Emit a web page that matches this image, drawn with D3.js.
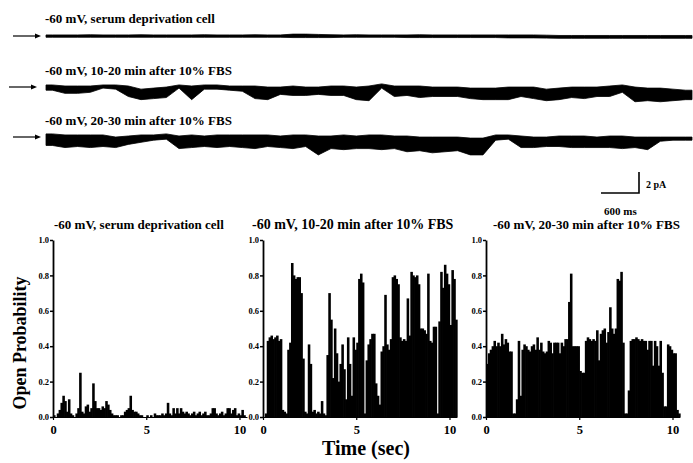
<!DOCTYPE html>
<html>
<head>
<meta charset="utf-8">
<script src="https://cdn.jsdelivr.net/npm/d3@7"></script>
<style>
    html, body { margin: 0; padding: 0; background: #fff; }
    svg { display: block; }
    text { font-family: "Liberation Serif", "Times New Roman", serif; font-weight: bold; fill: #000; }
</style>
</head>
<body>
<div id="figure"></div>
<script>
// ---- single channel traces, 0.2 s bins, envelope of the current (pA, closed = 0, openings negative)
const traceTitles = ["-60 mV, serum deprivation cell", "-60 mV, 10-20 min after 10% FBS", "-60 mV, 20-30 min after 10% FBS"];
const traceBin = 0.2;

const trace1Top = [0.10,0.10,0.10,0.12,0.10,0.10,0.10,0.12,0.10,0.10,0.10,0.10,0.12,0.10,0.10,0.10,0.12,0.10,0.10,0.18,0.18,0.15,0.12,0.10,0.12,0.10,0.10,0.10,0.10,0.12,0.10,0.10,0.10,0.10,0.10,0.10,0.10,0.10,0.10,0.08,0.05,0.05,0.05,0.05,0.05,0.05,0.05,0.05,0.05,0.05,0.05];
const trace1Bot = [-0.12,-0.12,-0.12,-0.12,-0.12,-0.12,-0.12,-0.12,-0.12,-0.12,-0.12,-0.12,-0.12,-0.12,-0.12,-0.12,-0.12,-0.12,-0.12,-0.15,-0.15,-0.15,-0.15,-0.12,-0.12,-0.12,-0.12,-0.12,-0.15,-0.15,-0.15,-0.15,-0.15,-0.15,-0.15,-0.15,-0.18,-0.18,-0.18,-0.20,-0.22,-0.22,-0.22,-0.22,-0.22,-0.22,-0.22,-0.22,-0.22,-0.22,-0.22];

const trace2Top = [0.1,0,0,0,0.1,0.1,0,-0.3,-0.2,-0.1,0.1,0,0.1,0.1,0,0,0,-0.1,-0.1,0,-0.1,-0.1,0,0,-0.1,0,0.2,0,0,0,-0.1,-0.1,-0.1,-0.2,-0.2,-0.2,-0.1,-0.1,-0.1,-0.3,-0.2,-0.1,-0.1,-0.1,0,0.1,-0.1,-0.2,-0.2,-0.3,-0.4];
const trace2Bot = [-0.4,-0.7,-0.7,-0.6,-0.2,-0.3,-1.0,-1.3,-1.2,-1.1,-0.2,-1.3,-0.3,-0.3,-0.4,-0.5,-1.2,-1.3,-0.8,-0.9,-0.9,-0.8,-0.9,-0.9,-1.3,-1.4,-0.2,-1.0,-0.9,-1.1,-1.0,-1.0,-1.0,-1.2,-1.3,-1.3,-1.3,-1.0,-1.2,-1.4,-1.3,-1.1,-1.2,-1.0,-1.0,-0.6,-1.5,-1.4,-1.5,-1.4,-1.3];

const trace3Top = [0.2,0.1,0.1,0.1,0.1,-0.1,0,0.1,0.1,0.2,0,0.1,0,0.1,0.1,0.1,0.1,0.1,0,0.1,0.1,0,0,0.1,0,0.1,0.1,0,0,-0.1,-0.1,-0.1,-0.1,-0.2,-0.2,0.1,0.1,0,-0.1,-0.1,0,0,0,-0.1,0,0,-0.1,-0.1,-0.1,-0.1,-0.1];
const trace3Bot = [-0.9,-1.1,-1.0,-1.1,-1.0,-1.1,-0.8,-0.6,-0.4,-0.3,-1.2,-1.1,-1.0,-1.1,-1.0,-1.1,-1.2,-1.0,-1.1,-1.2,-1.0,-1.8,-1.2,-1.3,-1.2,-1.2,-1.3,-1.2,-1.5,-1.4,-1.6,-1.5,-1.4,-1.8,-1.8,-0.4,-0.3,-1.1,-1.1,-1.0,-1.0,-1.1,-1.1,-1.1,-1.1,-1.2,-1.1,-1.3,-0.5,-0.4,-0.4];

const scaleBarCurrent = 2;    // pA
const scaleBarTime = 0.6;     // s
const scaleBarLabels = ["2 pA", "600 ms"];

// ---- open probability, 0.1 s bins
const poTitles = ["-60 mV, serum deprivation cell", "-60 mV, 10-20 min after 10% FBS", "-60 mV, 20-30 min after 10% FBS"];
const poBin = 0.1;

const poSerumFree = [0.01,0.00,0.02,0.04,0.08,0.12,0.09,0.03,0.10,0.02,
    0.01,0.00,0.02,0.05,0.25,0.03,0.02,0.06,0.07,0.03,
    0.05,0.19,0.09,0.05,0.05,0.04,0.06,0.05,0.09,0.07,
    0.04,0.02,0.01,0.01,0.01,0.00,0.01,0.01,0.03,0.04,
    0.05,0.12,0.04,0.03,0.03,0.02,0.01,0.01,0.00,0.00,
    0.01,0.00,0.01,0.00,0.02,0.01,0.01,0.01,0.02,0.01,
    0.02,0.08,0.02,0.01,0.05,0.02,0.05,0.02,0.05,0.03,
    0.02,0.03,0.02,0.01,0.02,0.03,0.01,0.02,0.03,0.01,
    0.02,0.03,0.01,0.01,0.02,0.05,0.05,0.02,0.01,0.02,
    0.03,0.01,0.02,0.05,0.05,0.02,0.04,0.05,0.01,0.02,
    0.01,0.04,0.01];

const poFbs10 = [0.00,0.02,0.43,0.45,0.46,0.44,0.45,0.46,0.43,0.44,
    0.04,0.03,0.02,0.38,0.42,0.87,0.80,0.78,0.79,0.79,
    0.70,0.33,0.03,0.02,0.41,0.30,0.03,0.04,0.02,0.03,
    0.02,0.09,0.02,0.01,0.35,0.70,0.55,0.22,0.50,0.36,
    0.20,0.30,0.41,0.27,0.10,0.45,0.30,0.12,0.45,0.38,
    0.42,0.78,0.81,0.76,0.02,0.32,0.41,0.44,0.47,0.47,
    0.19,0.12,0.07,0.37,0.40,0.69,0.41,0.38,0.44,0.79,
    0.80,0.78,0.75,0.45,0.43,0.44,0.43,0.67,0.46,0.82,
    0.80,0.79,0.80,0.75,0.50,0.50,0.49,0.47,0.81,0.43,
    0.42,0.51,0.51,0.02,0.54,0.82,0.73,0.86,0.81,0.75,
    0.52,0.83,0.78,0.55];

const poFbs20 = [0.30,0.36,0.38,0.40,0.43,0.40,0.42,0.40,0.47,0.41,
    0.44,0.42,0.37,0.37,0.02,0.02,0.10,0.43,0.12,0.38,
    0.41,0.40,0.38,0.37,0.40,0.41,0.38,0.45,0.38,0.42,
    0.37,0.36,0.37,0.43,0.42,0.36,0.42,0.42,0.42,0.36,
    0.42,0.40,0.44,0.44,0.65,0.81,0.40,0.40,0.40,0.40,
    0.26,0.25,0.25,0.43,0.45,0.44,0.43,0.44,0.43,0.49,
    0.32,0.47,0.49,0.50,0.42,0.48,0.62,0.50,0.47,0.50,
    0.78,0.77,0.82,0.42,0.02,0.02,0.15,0.43,0.44,0.44,
    0.45,0.44,0.43,0.44,0.43,0.43,0.38,0.43,0.43,0.29,
    0.43,0.40,0.29,0.43,0.25,0.06,0.06,0.41,0.40,0.38,
    0.36,0.36,0.04,0.02];

const probTicks = [0, 0.2, 0.4, 0.6, 0.8, 1.0];
const timeTicks = [0, 5, 10];
const yTitle = "Open Probability";
const xTitle = "Time (sec)";


const wSvg = 693;
const hSvg = 463;

const svg = d3.select("#figure").append("svg")
    .attr("width", wSvg)
    .attr("height", hSvg)
    .attr("viewBox", `0 0 ${wSvg} ${hSvg}`);


class TraceRow{
    constructor(svg, top, bot, title, opts){
        this.svg = svg;
        const n = top.length;
        // points at bin centres, padded with the two ends
        this.data = top.map((t, i) => ({t: (i + 0.5) * traceBin, top: t, bot: bot[i]}));
        this.data.unshift({t: 0, top: top[0], bot: bot[0]});
        this.data.push({t: n * traceBin, top: top[n - 1], bot: bot[n - 1]});
        this.title = title;
        this.opts = opts;

        this.xScale = d3.scaleLinear()
            .domain([0, n * traceBin])
            .range([46, 692]);

        // 2 pA -> 21 px
        this.yScale = d3.scaleLinear()
            .domain([-2, 0])
            .range([opts.base + 21, opts.base]);

        this.render();
    }

    render(){
        const g = this.svg.append("g").classed("trace", true);
        const o = this.opts;

        g.append("text")
            .attr("x", 45)
            .attr("y", o.titleY)
            .attr("font-size", 13)
            .text(this.title);

        const area = d3.area()
            .x(d => this.xScale(d.t))
            .y0(d => this.yScale(d.top))
            .y1(d => this.yScale(d.bot))
            .curve(d3.curveLinear);

        g.append("path")
            .datum(this.data)
            .attr("d", area)
            .attr("fill", "#000")
            .attr("stroke", "#000")
            .attr("stroke-width", 0.8)
            .attr("stroke-linejoin", "round");

        // arrow marking the closed level
        const ay = this.yScale(0) + o.arrowDy;
        g.append("line")
            .attr("x1", o.arrowX[0])
            .attr("x2", o.arrowX[1] - 4)
            .attr("y1", ay)
            .attr("y2", ay)
            .attr("stroke", "#000")
            .attr("stroke-width", 1.2);
        g.append("path")
            .attr("d", `M${o.arrowX[1]},${ay} l-6,-2.5 l0,5 z`)
            .attr("fill", "#000");
    }
}


class PoHistogram{
    constructor(svg, values, title, opts){
        this.svg = svg;
        this.values = values;
        this.title = title;
        this.opts = opts;

        this.pxPerSec = 18.65;
        this.xMax = 10.4;

        this.xScale = d3.scaleLinear()
            .domain([0, this.xMax])
            .range([opts.left, opts.left + this.xMax * this.pxPerSec]);

        this.yScale = d3.scaleLinear()
            .domain([0, 1])
            .range([417, 240]);

        this.render();
    }

    render(){
        const g = this.svg.append("g").classed("po-histogram", true);
        const bars = this.values.map((v, i) => ({t0: i * poBin, v}));

        g.selectAll("rect")
            .data(bars)
            .enter()
            .append("rect")
                .attr("x", d => this.xScale(d.t0))
                .attr("y", d => this.yScale(d.v))
                .attr("width", d => this.xScale(d.t0 + poBin) - this.xScale(d.t0) + 0.7)
                .attr("height", d => this.yScale(0) - this.yScale(d.v))
                .attr("fill", "#000");

        const yAxis = g.append("g")
            .attr("transform", `translate(${this.opts.left},0)`)
            .call(d3.axisLeft(this.yScale)
                .tickValues(probTicks)
                .tickFormat(d3.format(".1f"))
                .tickSize(3)
                .tickSizeOuter(0)
                .tickPadding(1));
        yAxis.select(".domain").attr("stroke-width", 1.8);
        yAxis.selectAll(".tick line").attr("stroke-width", 1.5);
        yAxis.selectAll("text")
            .attr("font-family", "'Liberation Serif', serif")
            .attr("font-weight", "bold")
            .attr("font-size", 8.5);

        const xAxis = g.append("g")
            .attr("transform", `translate(0,${this.yScale(0)})`)
            .call(d3.axisBottom(this.xScale)
                .tickValues(timeTicks)
                .tickSize(3)
                .tickSizeOuter(0)
                .tickPadding(5));
        xAxis.select(".domain").attr("stroke-width", 1.2);
        xAxis.selectAll(".tick line").attr("stroke-width", 1.2);
        xAxis.selectAll("text")
            .attr("font-family", "'Liberation Serif', serif")
            .attr("font-weight", "bold")
            .attr("font-size", 12.5);

        g.append("text")
            .attr("x", this.opts.titleX)
            .attr("y", 229)
            .attr("font-size", this.opts.titleSize)
            .text(this.title);
    }
}


new TraceRow(svg, trace1Top, trace1Bot, traceTitles[0], {base: 36, titleY: 22.5, arrowX: [13, 41], arrowDy: 0});
new TraceRow(svg, trace2Top, trace2Bot, traceTitles[1], {base: 86, titleY: 75, arrowX: [9, 37], arrowDy: 1});
new TraceRow(svg, trace3Top, trace3Bot, traceTitles[2], {base: 136, titleY: 125, arrowX: [13, 41], arrowDy: 1});

// scale bar, sized by the trace scales
const barT = d3.scaleLinear().domain([0, 10.2]).range([46, 692]);
const barI = d3.scaleLinear().domain([-2, 0]).range([21, 0]);
const corner = {x: 639, y: 193};
const bar = svg.append("g").classed("scale-bar", true);
bar.append("path")
    .attr("d", `M${corner.x - (barT(scaleBarTime) - barT(0))},${corner.y} H${corner.x} V${corner.y - barI(-scaleBarCurrent)}`)
    .attr("fill", "none")
    .attr("stroke", "#000")
    .attr("stroke-width", 1.6);
bar.append("text")
    .attr("x", corner.x + 7)
    .attr("y", 188)
    .attr("font-size", 10)
    .text(scaleBarLabels[0]);
bar.append("text")
    .attr("x", corner.x - 35)
    .attr("y", 215)
    .attr("font-size", 11)
    .text(scaleBarLabels[1]);

new PoHistogram(svg, poSerumFree, poTitles[0], {left: 53, titleX: 54, titleSize: 13});
new PoHistogram(svg, poFbs10, poTitles[1], {left: 263, titleX: 252, titleSize: 14});
new PoHistogram(svg, poFbs20, poTitles[2], {left: 486, titleX: 493, titleSize: 13});

svg.append("text")
    .attr("transform", "translate(26,343) rotate(-90)")
    .attr("text-anchor", "middle")
    .attr("font-size", 18)
    .text(yTitle);

svg.append("text")
    .attr("x", 366)
    .attr("y", 455)
    .attr("text-anchor", "middle")
    .attr("font-size", 20)
    .text(xTitle);
</script>
</body>
</html>
